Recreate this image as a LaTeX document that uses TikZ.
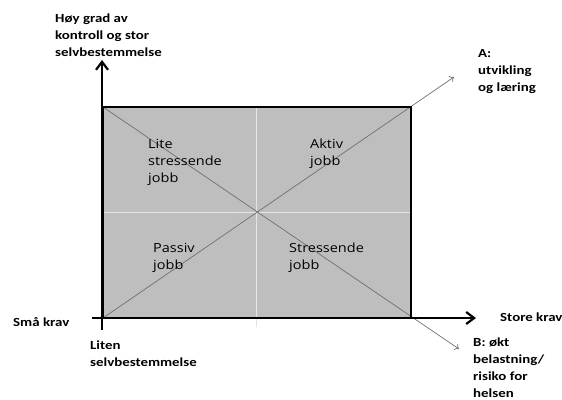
\documentclass[tikz,border=0pt]{standalone}
\usepackage{fontspec}
\setmainfont{Carlito}[FakeStretch=1.2]
\newfontfamily\quadfont{Open Sans}[FakeStretch=1.15]
\usetikzlibrary{arrows.meta}
\definecolor{boxgray}{HTML}{BEBEBE}
\definecolor{diaggray}{HTML}{707070}
\tikzset{
  axislabel/.style={anchor=base west,inner sep=0pt,align=left,
    font=\bfseries\fontsize{12.4}{17}\selectfont},
  quadlabel/.style={anchor=base west,inner sep=0pt,align=left,
    font=\quadfont\fontsize{12.6}{17}\selectfont},
  axis/.style={line width=2.8pt,-{Straight Barb[length=8pt,width=12pt,line width=2.2pt]}},
  diag/.style={color=diaggray,line width=0.7pt},
  midline/.style={color=white!90!black,line width=0.7pt}
}
\begin{document}
\begin{tikzpicture}[x=1pt,y=-1pt]
\clip (0,0) rectangle (562,399);
% corners of the square
\coordinate (tl) at (103,107);
\coordinate (tr) at (411,107);
\coordinate (bl) at (103,318);
\coordinate (br) at (411,318);
\coordinate (ctop) at (256,107);
\coordinate (cbot) at (256,327);
\coordinate (cleft) at (103,212);
\coordinate (cright) at (411,212);
\coordinate (atip) at (454,77);
\coordinate (btip) at (459,349);
\coordinate (ybot) at (102,330);
\coordinate (ytop) at (102,60);
\coordinate (xleft) at (92,318);
\coordinate (xright) at (476,318);
\fill [boxgray] (tl) rectangle (br);
\draw [midline] (ctop) -- (cbot);
\draw [midline] (cleft) -- (cright);
\draw [diag,-{To[length=4pt,width=7pt]}] (tl) -- (btip);
\draw [diag,-{To[length=4pt,width=7pt]}] (bl) -- (atip);
\draw [line width=1.6pt] (bl) -- (tl) -- (tr) -- (br) -- (bl);
\draw [axis] (ybot) -- (ytop);
\draw [axis] (xleft) -- (xright);
% texts (base = last line)
\node [axislabel] (hoy) at (55,56) {Høy grad av\\kontroll og stor\\selvbestemmelse};
\node [axislabel] (utv) at (478,91) {A:\\utvikling\\og læring};
\node [axislabel] (sma) at (13,326) {Små krav};
\node [axislabel] (liten) at (90,366) {Liten\\selvbestemmelse};
\node [axislabel] (store) at (500,321) {Store krav};
\node [axislabel] (okt) at (473,397) {B: økt\\belastning/\\risiko for\\helsen};
\node [quadlabel] (lite) at (148,182) {Lite\\stressende\\jobb};
\node [quadlabel] (aktiv) at (310,165) {Aktiv\\jobb};
\node [quadlabel] (passiv) at (153,269) {Passiv\\jobb};
\node [quadlabel] (stress) at (289,269) {Stressende\\jobb};
\end{tikzpicture}
\end{document}
